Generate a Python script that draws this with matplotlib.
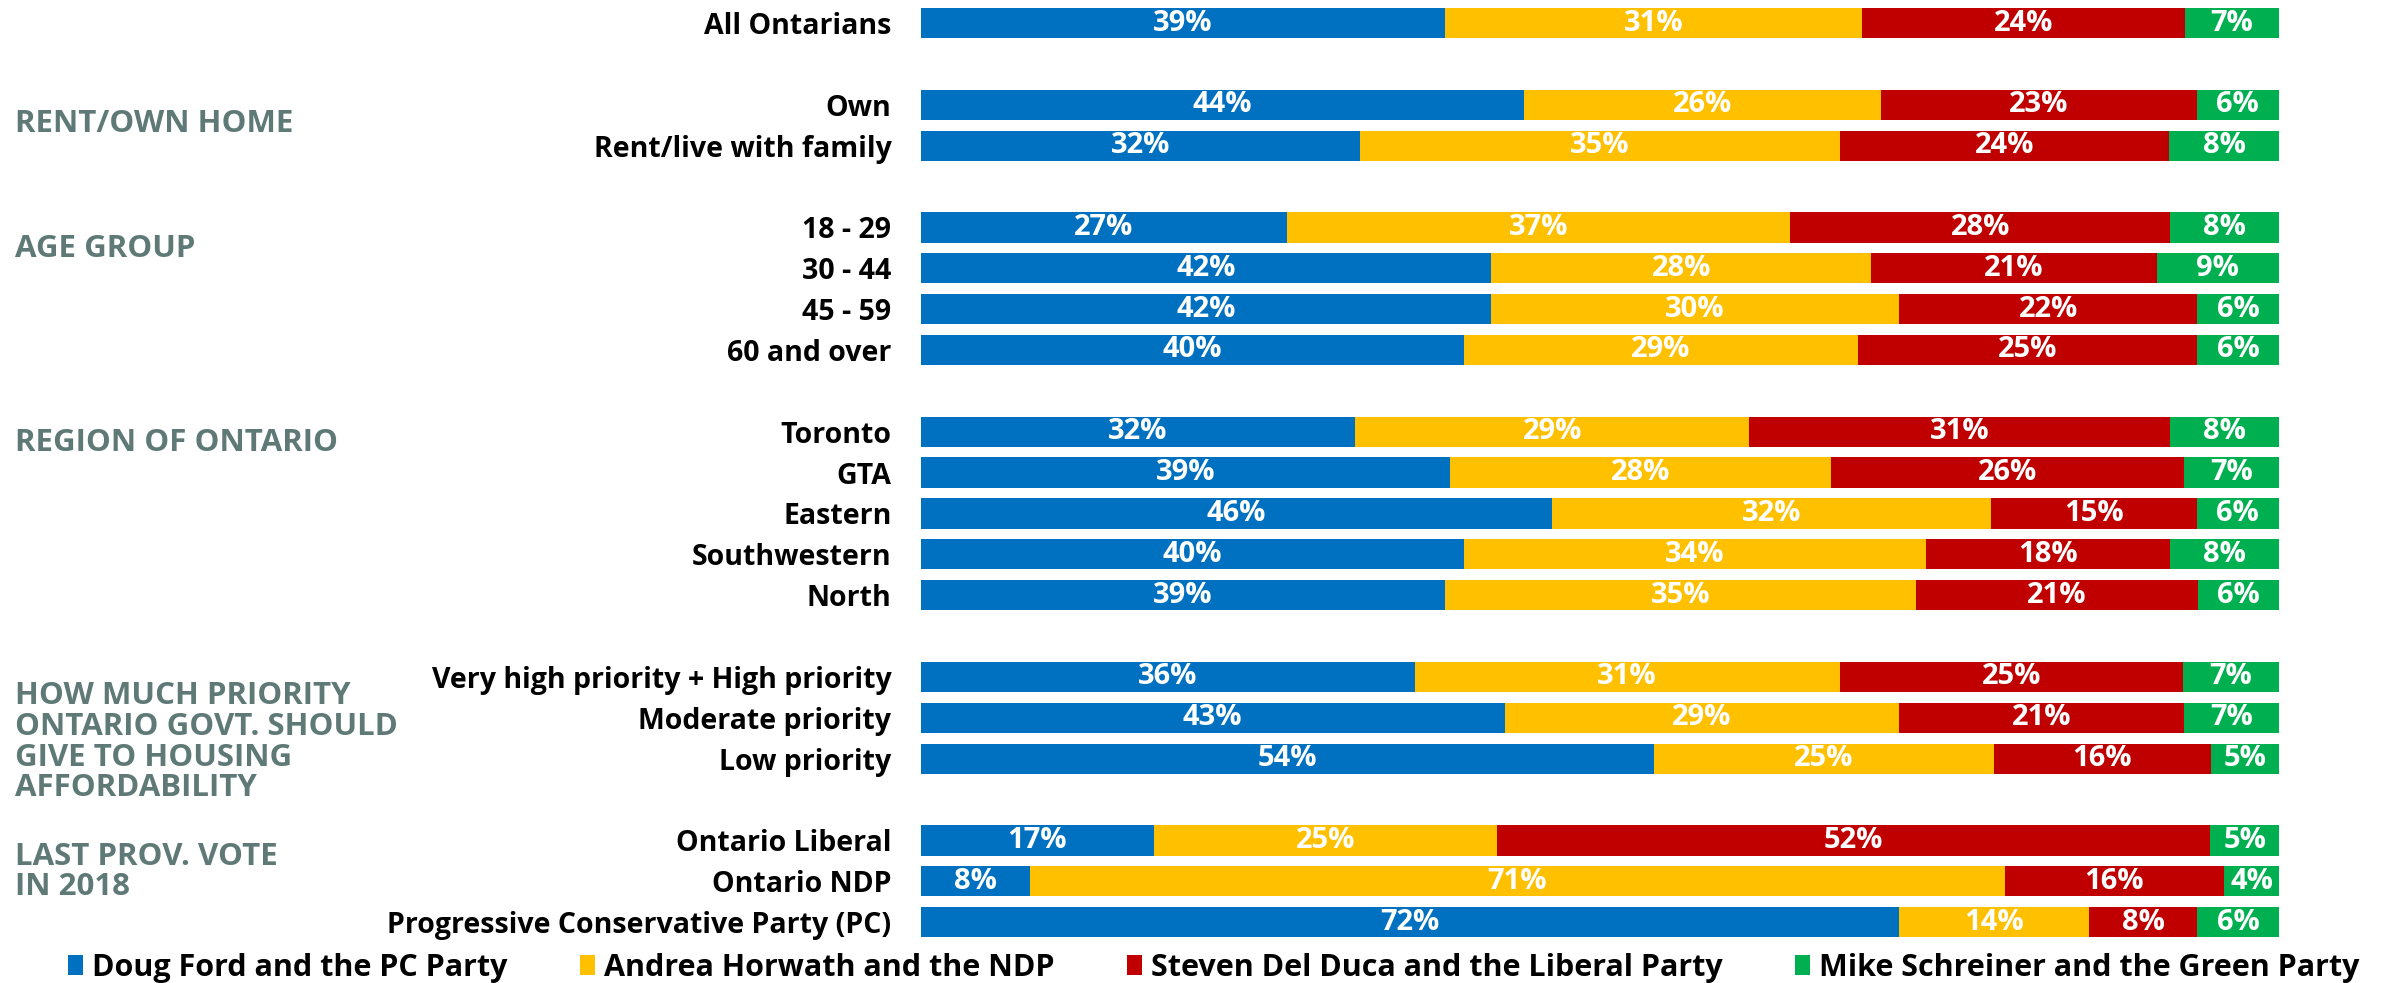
import matplotlib
matplotlib.use("Agg")
import matplotlib.pyplot as plt
import matplotlib.transforms as mtrans
from matplotlib.patches import Patch
import numpy as np

plt.rcParams['font.family'] = ['Open Sans', 'DejaVu Sans']

categories = ["All Ontarians",
              "Own", "Rent/live with family",
              "18 - 29", "30 - 44", "45 - 59", "60 and over",
              "Toronto", "GTA", "Eastern", "Southwestern", "North",
              "Very high priority + High priority", "Moderate priority", "Low priority",
              "Ontario Liberal", "Ontario NDP", "Progressive Conservative Party (PC)"]
slots = [0, 2, 3, 5, 6, 7, 8, 10, 11, 12, 13, 14, 16, 17, 18, 20, 21, 22]

series_names = ["Doug Ford and the PC Party", "Andrea Horwath and the NDP",
                "Steven Del Duca and the Liberal Party", "Mike Schreiner and the Green Party"]
pc = [39, 44, 32, 27, 42, 42, 40, 32, 39, 46, 40, 39, 36, 43, 54, 17, 8, 72]
ndp = [31, 26, 35, 37, 28, 30, 29, 29, 28, 32, 34, 35, 31, 29, 25, 25, 71, 14]
lib = [24, 23, 24, 28, 21, 22, 25, 31, 26, 15, 18, 21, 25, 21, 16, 52, 16, 8]
green = [7, 6, 8, 8, 9, 6, 6, 8, 7, 6, 8, 6, 7, 7, 5, 5, 4, 6]
colors = ["#0070C0", "#FFC000", "#C00000", "#00B050"]

sections = ["RENT/OWN HOME", "AGE GROUP", "REGION OF ONTARIO",
            "HOW MUCH PRIORITY\nONTARIO GOVT. SHOULD\nGIVE TO HOUSING\nAFFORDABILITY",
            "LAST PROV. VOTE\nIN 2018"]
section_pos = [2.47, 5.53, 10.27, 17.6, 20.77]

W, H = 2394, 983
fig = plt.figure(figsize=(W / 100, H / 100), dpi=100)
ax = fig.add_axes([920.6 / W, 1 - 942.6 / H, (2279 - 920.6) / W, 940 / H])

vals = np.array([pc, ndp, lib, green], dtype=float)
totals = vals.sum(axis=0)
norm = vals / totals * 100
left = np.zeros(len(categories))
for i in range(4):
    bars = ax.barh(slots, norm[i], left=left, height=0.74, color=colors[i],
                   edgecolor='none')
    ax.bar_label(bars, labels=[f"{int(v)}%" for v in vals[i]], label_type='center',
                 color='white', fontsize=21, fontweight='bold')
    left += norm[i]

ax.set_xlim(0, 100)
ax.set_ylim(22.5, -0.5)
ax.set_yticks(slots)
ax.set_yticklabels(categories, fontsize=20.5, fontweight='bold', color='black')
ax.tick_params(axis='y', length=0, pad=21)
ax.set_xticks([])
for s in ax.spines.values():
    s.set_visible(False)

tr = mtrans.blended_transform_factory(fig.transFigure, ax.transData)
for txt, yp in zip(sections, section_pos):
    ax.text(15 / W, yp, txt, transform=tr, ha='left', va='center',
            fontsize=22.5, fontweight='bold', color='#5F7A76', linespacing=1.03)

handles = [Patch(facecolor=c, edgecolor='none') for c in colors]
fig.legend(handles, series_names, loc='center', bbox_to_anchor=(0.507, 1 - 968 / H),
           ncol=4, frameon=False, prop={'size': 22, 'weight': 'bold'},
           handlelength=0.5, handleheight=0.65, handletextpad=0.3,
           columnspacing=2.35, borderpad=0, borderaxespad=0)

fig.savefig("out.png", dpi=100)
